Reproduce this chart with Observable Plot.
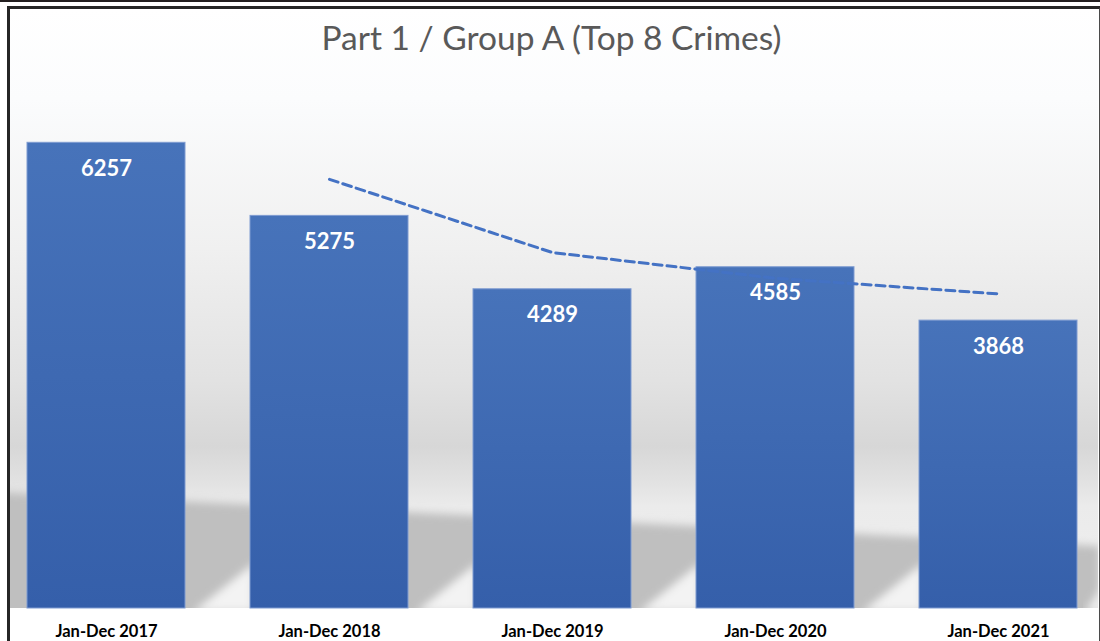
<!DOCTYPE html>
<html>
<head>
<meta charset="utf-8">
<script src="https://cdn.jsdelivr.net/npm/d3@7"></script>
<script src="https://cdn.jsdelivr.net/npm/@observablehq/plot@0.6"></script>
<style>
  html, body { margin: 0; padding: 0; background: #ffffff; }
  #wrap { position: relative; width: 1100px; height: 641px; overflow: hidden; font-family: Lato, "Open Sans", sans-serif; }
  #chart { position: absolute; left: 0; top: 0; }
  #topbar { position: absolute; left: 0; top: 0; width: 1100px; height: 2px; background: #231f20; }
  #frame { position: absolute; left: 7px; top: 6px; width: 1089px; height: 700px;
           border-top: 3px solid #262626; border-left: 3px solid #262626; border-right: 2px solid #4a4a4a; }
  #title { position: absolute; left: 0; top: 17px; width: 1103px; text-align: center;
           font-family: Lato, "Open Sans", sans-serif; font-size: 33.5px; color: #595959; }
</style>
</head>
<body>
<div id="wrap">
  <div id="chart"></div>
  <div id="topbar"></div>
  <div id="frame"></div>
  <div id="title">Part 1 / Group A (Top 8 Crimes)</div>
</div>
<script>
// ---- data ----
const categories = ["Jan-Dec 2017", "Jan-Dec 2018", "Jan-Dec 2019", "Jan-Dec 2020", "Jan-Dec 2021"];
const values = [6257, 5275, 4289, 4585, 3868];
// 2-period moving-average trend line
const trendCategories = ["Jan-Dec 2018", "Jan-Dec 2019", "Jan-Dec 2020", "Jan-Dec 2021"];
const trendValues = [5766, 4782, 4437, 4227];

const bars = categories.map((c, i) => ({category: c, value: values[i]}));
const trend = trendCategories.map((c, i) => ({category: c, value: trendValues[i]}));

const chart = Plot.plot({
  width: 1100,
  height: 641,
  marginLeft: 8,
  marginRight: 3,
  marginTop: 87,
  marginBottom: 33,
  style: {background: "transparent", fontFamily: "Lato, 'Open Sans', sans-serif", overflow: "visible"},
  x: {domain: categories, paddingInner: 0.29, paddingOuter: 0.08, label: null},
  y: {domain: [0, 7000], axis: null},
  marks: [
    Plot.barY(bars, {x: "category", y: "value", fill: "url(#barGrad)", stroke: "#7f9bd1", strokeWidth: 1}),
    Plot.text(bars, {x: "category", y: "value", text: d => String(d.value), dy: 26,
                     fill: "white", fontSize: 22, fontWeight: "bold"}),
    Plot.lineY(trend, {x: "category", y: "value", stroke: "#4472c4", strokeWidth: 3,
                       strokeDasharray: "9 5"}),
    Plot.axisX({tickSize: 0, tickPadding: 17, fontSize: 16.5, fontWeight: "bold", fill: "#000"})
  ]
});

document.getElementById("chart").appendChild(chart);

// ---- decorative background (gradient wall + floor shadow) ----
const svg = d3.select(chart);
const xs = chart.scale("x");
const bw = xs.bandwidth;
const defs = svg.insert("defs", ":first-child");

const bg = defs.append("linearGradient").attr("id", "bgGrad")
  .attr("gradientUnits", "userSpaceOnUse").attr("x1", 0).attr("x2", 0).attr("y1", 9).attr("y2", 608);
[[0, "#ffffff"], [0.15, "#fbfcfd"], [0.4, "#f0f0f0"], [0.62, "#e2e2e2"], [0.73, "#d7d7d7"],
 [0.79, "#e2e2e2"], [0.83, "#ebebeb"], [1, "#f0f0f0"]].forEach(([o, c]) =>
  bg.append("stop").attr("offset", o).attr("stop-color", c));

const bar = defs.append("linearGradient").attr("id", "barGrad")
  .attr("x1", 0).attr("x2", 0).attr("y1", 0).attr("y2", 1);
bar.append("stop").attr("offset", 0).attr("stop-color", "#4773ba");
bar.append("stop").attr("offset", 1).attr("stop-color", "#355faa");

const blur = defs.append("filter").attr("id", "soft").attr("x", "-10%").attr("y", "-20%")
  .attr("width", "120%").attr("height", "140%");
blur.append("feGaussianBlur").attr("stdDeviation", 4);

defs.append("clipPath").attr("id", "wallClip")
  .append("rect").attr("x", 10).attr("y", 9).attr("width", 1088).attr("height", 599);

const back = svg.insert("g", "defs + *").attr("clip-path", "url(#wallClip)");
back.append("rect").attr("x", 10).attr("y", 9).attr("width", 1088).attr("height", 599)
  .attr("fill", "url(#bgGrad)");
back.append("polygon")
  .attr("points", "0,492 1100,546 1100,620 0,620")
  .attr("fill", "#bfbfbf").attr("filter", "url(#soft)");
// light wedges in the lower right corner of each gap
const starts = categories.map(c => xs.apply(c));
const wedges = [];
for (let i = 0; i < starts.length; i++) {
  const gapL = starts[i] + bw;
  const gapR = i < starts.length - 1 ? starts[i + 1] : 1098;
  wedges.push([[gapL + 8, 612], [gapR + 4, 563 + (i === starts.length - 1 ? 25 : 0)], [gapR + 4, 612]]);
}
back.selectAll("polygon.w").data(wedges).join("polygon").attr("class", "w")
  .attr("points", d => d.map(p => p.join(",")).join(" "))
  .attr("fill", "#f3f3f3").attr("filter", "url(#soft)");
</script>
</body>
</html>
